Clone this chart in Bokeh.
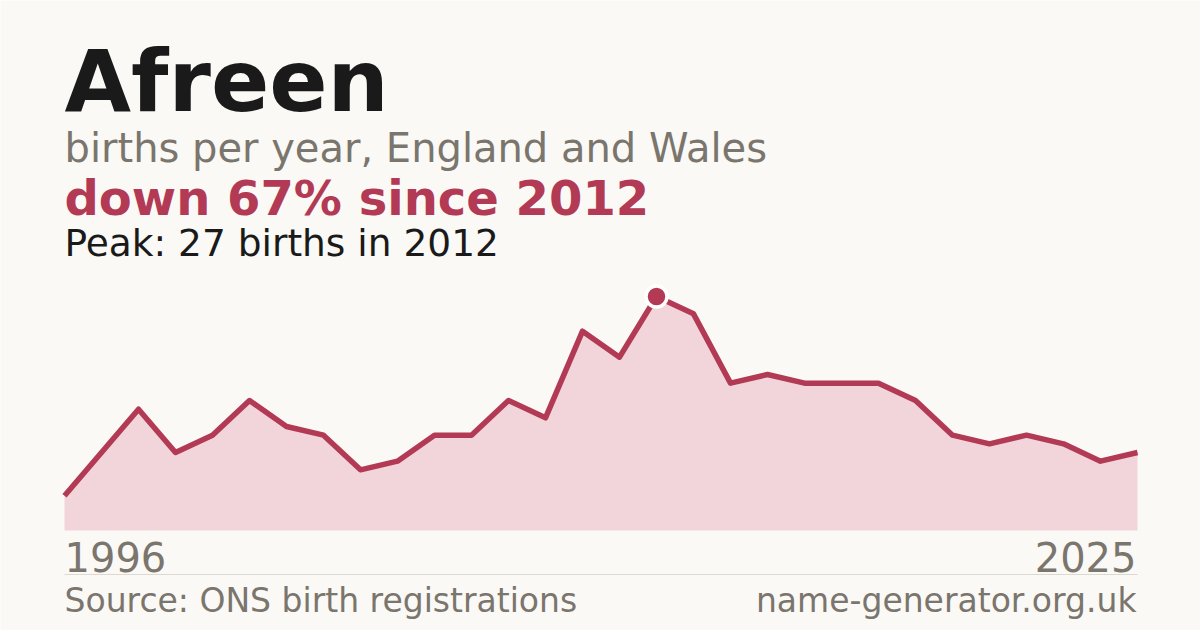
from bokeh.plotting import figure
from bokeh.models import Range1d, Label, BoxAnnotation
from bokeh.embed import file_html
from bokeh.resources import INLINE

# ---- data ----
years = list(range(1996, 2026))
births = [4, 9, 14, 9, 11, 15, 12, 11, 7, 8, 11, 11, 15, 13, 23, 20, 27, 25,
          17, 18, 17, 17, 17, 15, 11, 10, 11, 10, 8, 9]
name = "Afreen"
subtitle = "births per year, England and Wales"
headline = "down 67% since 2012"
peak_text = "Peak: 27 births in 2012"
source_text = "Source: ONS birth registrations"
site_text = "name-generator.org.uk"

peak_i = births.index(max(births))

# ---- layout ----
W, H = 1200, 630
BG = "#faf9f5"
RED = "#b23a55"
FILL = "#f1d5db"
GRAY = "#7a756d"
DARK = "#1a1a1a"
FONT = "DejaVu Sans"

left_px, right_px = 64, 1137          # canvas x of first / last year
base_px = 100                         # canvas y (from bottom) of zero
unit_px = 234 / 27.0                  # px per birth
yr_px = (right_px - left_px) / (len(years) - 1)

x0 = years[0] - left_px / yr_px
x1 = x0 + W / yr_px
y0 = -base_px / unit_px
y1 = y0 + H / unit_px

p = figure(width=W, height=H, output_backend="svg", toolbar_location=None,
           x_range=Range1d(x0, x1), y_range=Range1d(y0, y1),
           min_border=0, background_fill_color=BG, border_fill_color=BG)
p.axis.visible = False
p.grid.visible = False
p.outline_line_color = None

p.varea(x=years, y1=[0] * len(years), y2=births, fill_color=FILL)
p.line(x=years, y=births, line_color=RED, line_width=5.5, line_join="round")
p.scatter(x=[years[peak_i]], y=[births[peak_i]], size=21, fill_color=RED,
          line_color="white", line_width=3.5)


def lab(text, x, page_y, size, color, bold=False, align="left"):
    p.add_layout(Label(x=x, y=H - page_y + 0.37 * size, x_units="screen", y_units="screen",
                       text=text, text_font=FONT, text_font_size=f"{size}px",
                       text_color=color, text_align=align,
                       text_baseline="alphabetic",
                       text_font_style="bold" if bold else "normal"))


lab(name, 64, 112, 86, DARK, bold=True)
lab(subtitle, 64, 162, 40, GRAY)
lab(headline, 64, 215, 48, RED, bold=True)
lab(peak_text, 64, 256, 37.5, DARK)
lab(str(years[0]), 64, 571, 40, GRAY)
lab(str(years[-1]), 1136, 571, 40, GRAY, align="right")
lab(source_text, 64, 612, 33, GRAY)
lab(site_text, 1136, 612, 33, GRAY, align="right")

p.add_layout(BoxAnnotation(left=left_px, right=right_px, bottom=H - 574.5, top=H - 573.5,
                           left_units="screen", right_units="screen",
                           bottom_units="screen", top_units="screen",
                           fill_color="#dcd9d2", fill_alpha=1, line_color=None))

html = file_html(p, INLINE)
open("out.html", "w").write(html)
